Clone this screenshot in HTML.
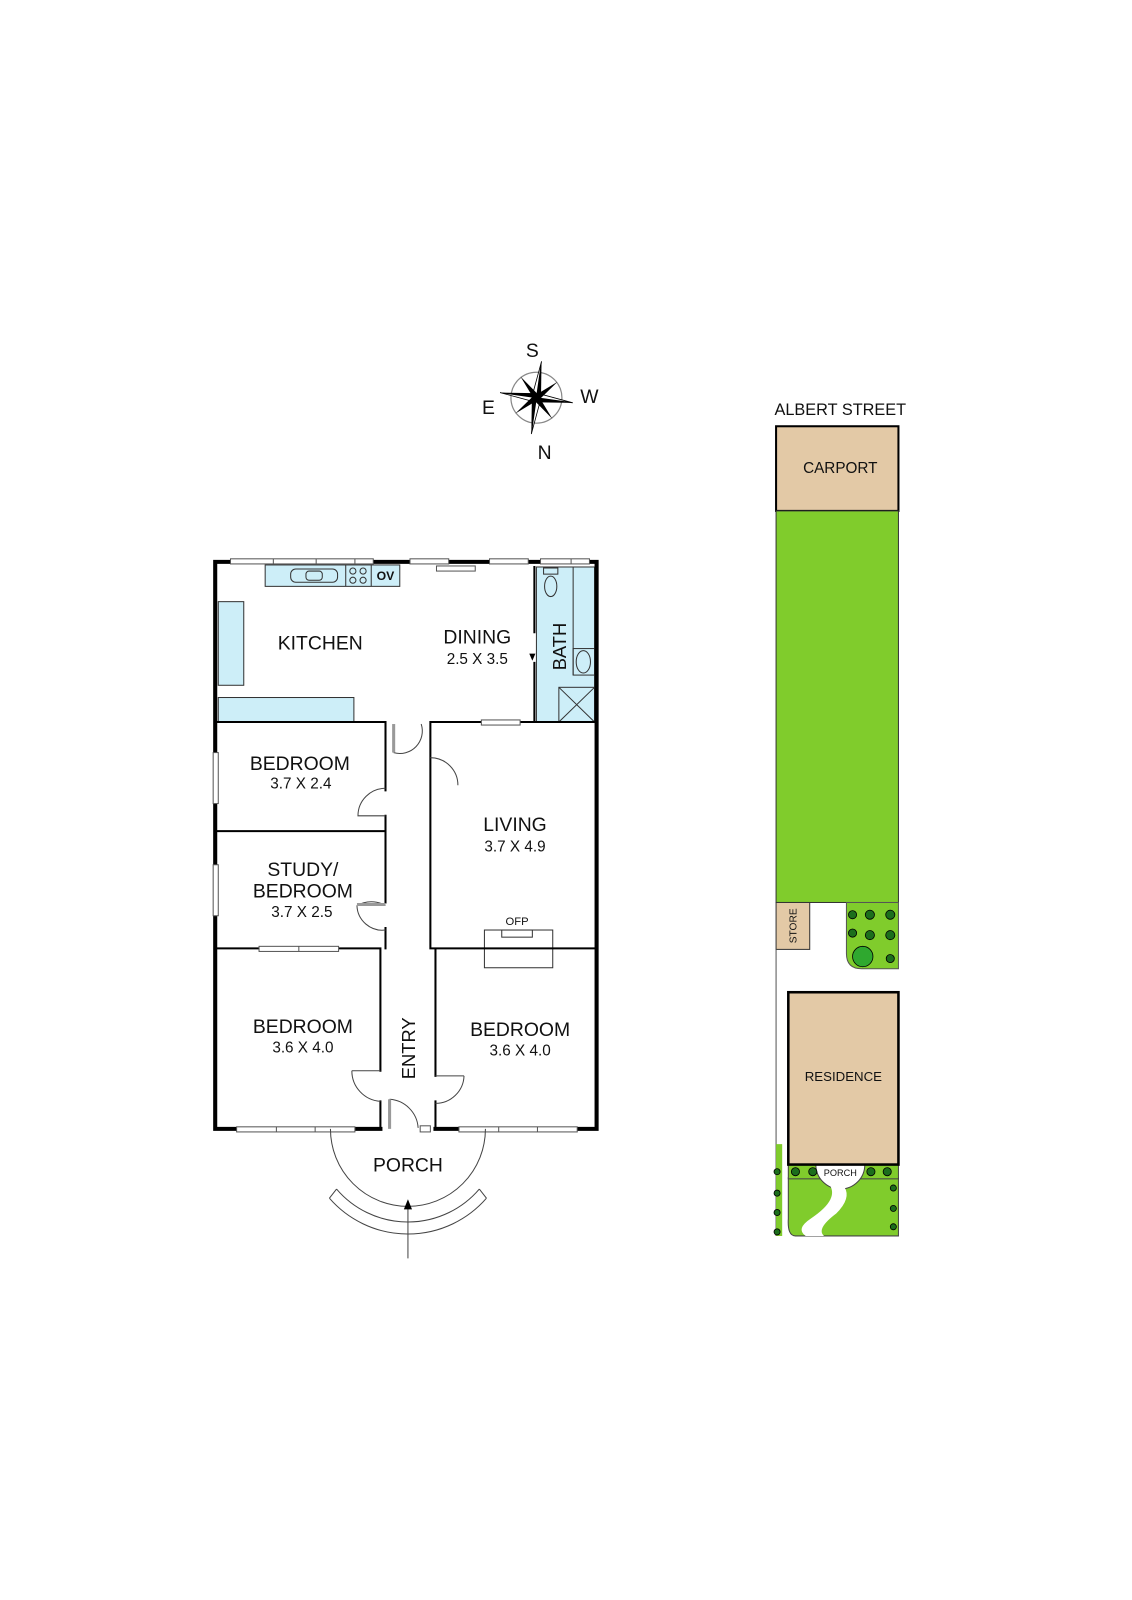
<!DOCTYPE html>
<html><head><meta charset="utf-8"><style>
html,body{margin:0;padding:0;background:#fff}
svg{display:block}
text{font-family:"Liberation Sans",sans-serif;fill:#111}
</style></head><body>
<svg width="1132" height="1600" viewBox="0 0 1110 1569" xmlns="http://www.w3.org/2000/svg">
<!-- compass -->
<g transform="translate(526,390)">
<circle r="25" fill="none" stroke="#888" stroke-width="1.2"/>
<g transform="rotate(8)">
<polygon points="0,-36 4,-4 0,0" fill="#000"/><polygon points="0,-36 -4,-4 0,0" fill="#fff" stroke="#000" stroke-width="0.8"/>
<polygon points="0,36 -4,4 0,0" fill="#000"/><polygon points="0,36 4,4 0,0" fill="#fff" stroke="#000" stroke-width="0.8"/>
<polygon points="-36,0 -4,-4 0,0" fill="#000"/><polygon points="-36,0 -4,4 0,0" fill="#fff" stroke="#000" stroke-width="0.8"/>
<polygon points="36,0 4,4 0,0" fill="#000"/><polygon points="36,0 4,-4 0,0" fill="#fff" stroke="#000" stroke-width="0.8"/>
<g transform="rotate(45)">
<polygon points="0,-26 3,-3 -3,3" fill="#000"/><polygon points="0,26 -3,3 3,-3" fill="#000"/>
<polygon points="-26,0 -3,-3 3,3" fill="#000"/><polygon points="26,0 3,3 -3,-3" fill="#000"/>
</g></g></g>
<text x="522" y="350" font-size="19" text-anchor="middle">S</text>
<text x="534" y="450" font-size="19" text-anchor="middle">N</text>
<text x="479" y="406" font-size="19" text-anchor="middle">E</text>
<text x="578" y="395" font-size="19" text-anchor="middle">W</text>

<!-- floor plan fills -->
<g fill="#cdeef8" stroke="#333" stroke-width="1">
<rect x="260" y="554" width="132" height="21"/>
<rect x="214" y="590" width="25" height="82"/>
<rect x="214" y="684" width="133" height="24"/>
<rect x="526" y="556" width="57" height="152"/>
</g>
<g fill="none" stroke="#333" stroke-width="1">
<rect x="285" y="558" width="46" height="13" rx="5"/><rect x="300" y="560" width="16" height="9" rx="3"/>
<line x1="339" y1="554" x2="339" y2="575"/><line x1="364" y1="554" x2="364" y2="575"/>
<circle cx="346" cy="560" r="3"/><circle cx="356" cy="560" r="3"/><circle cx="346" cy="569" r="3"/><circle cx="356" cy="569" r="3"/>
<line x1="562" y1="556" x2="562" y2="662"/><rect x="562" y="636" width="21" height="26"/><ellipse cx="572" cy="649" rx="7" ry="11"/>
<rect x="548" y="674" width="35" height="34"/><line x1="548" y1="674" x2="583" y2="708"/><line x1="583" y1="674" x2="548" y2="708"/>
<rect x="533" y="557" width="14" height="6"/><ellipse cx="540" cy="575" rx="6" ry="10"/>
<rect x="475" y="912" width="67" height="37"/><rect x="492" y="912" width="30" height="7"/>
</g>
<text x="378" y="569" font-size="12" font-weight="bold" text-anchor="middle">OV</text>

<!-- walls -->
<g fill="none" stroke="#000" stroke-linecap="square">
<path d="M211,551 V1107 H373 M427,1107 H585 V551 H211" stroke-width="4"/>
<g stroke-width="2">
<path d="M211,708 H378 V775 M378,800 V815 M211,815 H378 V885 M378,910 V930 M211,930 H373 V1050 M373,1080 V1107"/>
<path d="M585,708 H422 V770 M422,770 V930 H585 M427,930 V1055 M427,1080 V1107"/>
<path d="M524,556 V620 M524,650 V708"/>
</g></g>
<!-- windows -->
<g fill="#fff" stroke="#555" stroke-width="1">
<rect x="226" y="548" width="140" height="5"/><rect x="402" y="548" width="38" height="5"/><rect x="428" y="555" width="38" height="5"/><rect x="480" y="548" width="38" height="5"/><rect x="530" y="548" width="48" height="5"/>
<rect x="209" y="738" width="5" height="50"/><rect x="209" y="848" width="5" height="50"/>
<rect x="254" y="928" width="78" height="5"/><rect x="472" y="706" width="38" height="5"/>
<rect x="232" y="1105" width="116" height="5"/><rect x="450" y="1105" width="116" height="5"/>
<rect x="412" y="1104" width="10" height="6"/>
</g>
<g stroke="#555" stroke-width="1">
<line x1="268" y1="548" x2="268" y2="553"/><line x1="310" y1="548" x2="310" y2="553"/><line x1="348" y1="548" x2="348" y2="553"/>
<line x1="560" y1="548" x2="560" y2="553"/><line x1="293" y1="928" x2="293" y2="933"/>
<line x1="271" y1="1105" x2="271" y2="1110"/><line x1="309" y1="1105" x2="309" y2="1110"/>
<line x1="489" y1="1105" x2="489" y2="1110"/><line x1="527" y1="1105" x2="527" y2="1110"/>
</g>
<!-- doors -->
<g fill="none" stroke="#444" stroke-width="1">
<path d="M386,738 A22,22 0 0,0 413,710"/><line x1="386" y1="710" x2="386" y2="738" stroke="#999" stroke-width="3"/>
<path d="M422,743 A27,27 0 0,1 449,770"/>
<path d="M378,773 A27,27 0 0,0 351,800 H378"/>
<path d="M378,888 A28,28 0 0,0 350,888 M350,888 A25,25 0 0,0 378,912"/><line x1="350" y1="887" x2="378" y2="887" stroke="#999" stroke-width="3"/>
<path d="M345,1050 H373 M345,1050 A30,30 0 0,0 373,1080"/>
<path d="M455,1055 H427 M455,1055 A28,28 0 0,1 427,1082"/>
<path d="M382,1078 A30,30 0 0,1 410,1106"/><line x1="382" y1="1078" x2="382" y2="1107" stroke="#999" stroke-width="3"/>
<path d="M324,1107 A76,76 0 0,0 476,1107"/>
<path d="M330,1166 A92,92 0 0,0 470,1166 M323,1175 A102,102 0 0,0 477,1175 M330,1166 L323,1175 M470,1166 L477,1175"/>
<path d="M400,1234 V1180"/>
</g>
<polygon points="400,1176 396,1186 404,1186" fill="#000"/>
<polygon points="522,648 519,641 525,641" fill="#000"/>

<!-- labels -->
<g font-size="19" text-anchor="middle">
<text x="314" y="637">KITCHEN</text>
<text x="468" y="631">DINING</text><text x="468" y="651" font-size="15">2.5 X 3.5</text>
<text x="294" y="755">BEDROOM</text><text x="295" y="773" font-size="15">3.7 X 2.4</text>
<text x="505" y="815">LIVING</text><text x="505" y="835" font-size="15">3.7 X 4.9</text>
<text x="297" y="859">STUDY/</text><text x="297" y="880">BEDROOM</text><text x="296" y="899" font-size="15">3.7 X 2.5</text>
<text x="297" y="1013">BEDROOM</text><text x="297" y="1032" font-size="15">3.6 X 4.0</text>
<text x="510" y="1016">BEDROOM</text><text x="510" y="1035" font-size="15">3.6 X 4.0</text>
<text x="400" y="1149">PORCH</text>
<text x="507" y="907" font-size="11">OFP</text>
<text transform="translate(555,634) rotate(-90)" font-size="18">BATH</text>
<text transform="translate(407,1028) rotate(-90)" font-size="18">ENTRY</text>
</g>

<!-- site plan -->
<text x="824" y="407" font-size="16" text-anchor="middle">ALBERT STREET</text>
<rect x="761" y="418" width="120" height="83" fill="#e3c9a6" stroke="#000" stroke-width="2"/>
<text x="824" y="464" font-size="15" text-anchor="middle">CARPORT</text>
<rect x="761" y="501" width="120" height="384" fill="#80cc2c" stroke="#333" stroke-width="1"/>
<rect x="761" y="885" width="33" height="46" fill="#e3c9a6" stroke="#333" stroke-width="1"/>
<text transform="translate(781,925) rotate(-90)" font-size="10">STORE</text>
<path d="M830,885 H881 V950 H845 Q830,950 830,935 Z" fill="#80cc2c" stroke="#555" stroke-width="1"/>
<g fill="#1c6e1c" stroke="#000" stroke-width="0.8">
<circle cx="836" cy="897" r="4"/><circle cx="853" cy="897" r="4.5"/><circle cx="873" cy="897" r="4.5"/>
<circle cx="836" cy="915" r="4"/><circle cx="853" cy="917" r="4.5"/><circle cx="873" cy="917" r="4.5"/>
<circle cx="846" cy="938" r="10" fill="#2fa82f"/><circle cx="873" cy="940" r="4"/>
</g>
<line x1="761" y1="931" x2="761" y2="1212" stroke="#555" stroke-width="1"/>
<path d="M761,1122 H767 V1212 H761 Z" fill="#80cc2c"/>
<path d="M773,1155 H881 V1212 H780 Q772,1212 773,1195 Z" fill="#80cc2c" stroke="#444" stroke-width="1"/>
<rect x="773" y="1142" width="108" height="14" fill="#80cc2c" stroke="#444" stroke-width="1"/>
<path d="M800,1142 A24,24 0 0,0 848,1142 Z" fill="#fff" stroke="#444"/>
<path d="M812,1160 Q825,1175 795,1195 Q780,1205 790,1212 L808,1212 Q800,1205 820,1190 Q835,1175 828,1164 Z" fill="#fff"/>
<rect x="773" y="973" width="108" height="169" fill="#e3c9a6" stroke="#000" stroke-width="2.5"/>
<text x="827" y="1060" font-size="13" text-anchor="middle">RESIDENCE</text>
<text x="824" y="1153" font-size="9" text-anchor="middle">PORCH</text>
<g fill="#1c6e1c" stroke="#000" stroke-width="0.8">
<circle cx="780" cy="1149" r="4"/><circle cx="797" cy="1149" r="4"/><circle cx="854" cy="1149" r="4"/><circle cx="870" cy="1149" r="4"/>
<circle cx="762" cy="1149" r="3"/><circle cx="762" cy="1170" r="3"/><circle cx="762" cy="1189" r="3"/><circle cx="762" cy="1208" r="3"/>
<circle cx="876" cy="1165" r="3"/><circle cx="876" cy="1185" r="3"/><circle cx="876" cy="1203" r="3"/>
</g>
</svg>
</body></html>
